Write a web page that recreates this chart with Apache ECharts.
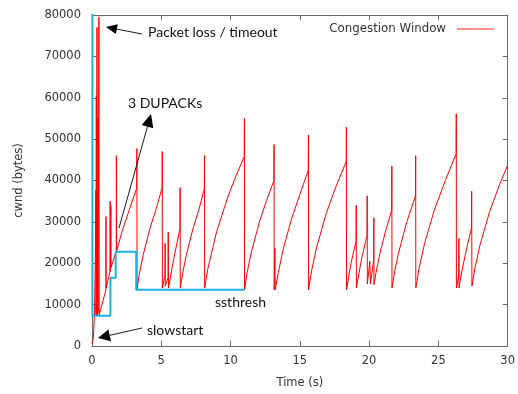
<!DOCTYPE html>
<html><head><meta charset="utf-8">
<script src="https://cdn.jsdelivr.net/npm/echarts@6/dist/echarts.min.js"></script>
<style>html,body{margin:0;padding:0;background:#fff}#c{width:518px;height:394px}</style>
</head><body><div id="c"></div>
<script>
// Congestion window trace (time in s, cwnd in bytes)
const cwndTime = [
  0, 0.1, 0.18, 0.24, 0.28, 0.29, 0.31, 0.33, 0.36, 0.37, 0.38, 0.40, 0.42, 0.44, 0.50, 0.52,
  0.8, 1.0, 1.01, 1.02, 1.3, 1.31, 1.33, 1.36, 1.38, 1.75, 1.76, 1.78, 2.2, 2.7, 3.23, 3.24, 3.25,
  3.4, 3.7, 4.2, 4.7, 5.06, 5.07, 5.08, 5.27, 5.28, 5.29, 5.49, 5.5, 5.52, 5.9, 6.35, 6.36, 6.37,
  6.55, 6.8, 7.3, 7.7, 8.11, 8.12, 8.13,
  8.35, 9.0, 9.8, 10.4, 10.99, 11.0, 11.01,
  11.2, 11.5, 12.1, 12.6, 13.13, 13.14, 13.15, 13.2, 13.22,
  13.45, 13.8, 14.4, 15.0, 15.61, 15.62, 15.63,
  15.85, 16.2, 16.9, 17.6, 18.35, 18.36, 18.37,
  18.7, 19.06, 19.07, 19.08,
  19.45, 19.85, 19.86, 19.87, 20.05, 20.1, 20.33, 20.34, 20.35,
  20.5, 20.8, 21.2, 21.63, 21.64, 21.65,
  21.85, 22.1, 22.7, 23.35, 23.36, 23.37,
  23.6, 24.0, 24.7, 25.5, 26.28, 26.29, 26.3, 26.47, 26.48, 26.49,
  26.65, 26.95, 27.39, 27.4, 27.42,
  27.65, 28.0, 28.7, 29.4, 30.0
];
const cwndBytes = [
  500, 2000, 8000, 20000, 37700, 7500, 60500, 7500, 77000, 7500, 55000, 7500, 55000, 8000, 79500, 7500,
  11000, 13500, 31300, 14000, 18000, 35000, 18000, 34000, 19000, 23000, 46000, 23000, 28000, 33000, 38200, 47700, 13600,
  17100, 22100, 28600, 33900, 38300, 47000, 14000, 17000, 24800, 14500, 16500, 27500, 14000, 21100, 28400, 38300, 14000,
  17700, 21900, 28500, 32800, 38000, 46000, 14000,
  18500, 27700, 36000, 41200, 45800, 55000, 13600,
  17800, 22700, 30200, 35200, 40000, 48700, 13600, 23600, 13600,
  17800, 23400, 30700, 36600, 42500, 51000, 13600,
  18200, 23700, 32000, 38500, 44600, 52900, 13600,
  20100, 25400, 34000, 14000,
  21000, 26700, 36300, 15000, 20500, 15000, 20800, 31000, 14800,
  17800, 22700, 27900, 32800, 43500, 14000,
  18100, 22200, 29800, 36300, 46000, 14000,
  18700, 24700, 32800, 40000, 46500, 56100, 14000, 17000, 26000, 14000,
  17400, 22200, 28600, 37400, 14500,
  19000, 24400, 32500, 38900, 43700
];
// Slow-start threshold steps
const ssthreshTime  = [0.03, 0.03, 1.33, 1.33, 1.71, 1.71, 3.19, 3.19, 11.0];
const ssthreshBytes = [85000, 7300, 7300, 16500, 16500, 22800, 22800, 13600, 13600];
// Axis ticks
const xTicks = [0, 5, 10, 15, 20, 25, 30];
const yTicks = [0, 10000, 20000, 30000, 40000, 50000, 60000, 70000, 80000];
const seriesName = 'Congestion Window';
const labels = {
  loss: 'Packet loss / timeout',
  dup: '3 DUPACKs',
  slow: 'slowstart',
  ss: 'ssthresh'
};

const zip = (a, b) => a.map((v, i) => [v, b[i]]);
const axisFont = 'DejaVu Sans';
const border = '#6a6a6a';

const chart = echarts.init(document.getElementById('c'), null, {renderer: 'canvas'});

function arrow(x1, y1, x2, y2, len, half) {
  const dx = x2 - x1, dy = y2 - y1, d = Math.hypot(dx, dy);
  const ux = dx / d, uy = dy / d;
  const bx = x2 - ux * len, by = y2 - uy * len;
  return [
    {type: 'line', shape: {x1: x1, y1: y1, x2: bx, y2: by}, style: {stroke: '#1a1a1a', lineWidth: 1}, z: 100},
    {type: 'polygon', shape: {points: [[x2, y2], [bx - uy * half, by + ux * half], [bx + uy * half, by - ux * half]]},
     style: {fill: '#000'}, z: 100}
  ];
}
const annFont = {fontFamily: 'Lato', fontSize: 14, fill: '#111'};
function txt(s, x, y) {
  return {type: 'text', x: x, y: y, style: Object.assign({text: s, textVerticalAlign: 'middle', verticalAlign: 'middle'}, annFont), z: 100};
}

const yAxisBase = {
  type: 'value', min: yTicks[0], max: yTicks[yTicks.length - 1], interval: yTicks[1] - yTicks[0],
  splitLine: {show: false},
  axisLine: {show: true, onZero: false, lineStyle: {color: border, width: 1}},
  axisTick: {show: true, inside: true, length: 5, lineStyle: {color: border}}
};
const xAxisBase = {
  type: 'value', min: xTicks[0], max: xTicks[xTicks.length - 1], interval: xTicks[1] - xTicks[0],
  splitLine: {show: false},
  axisLine: {show: true, onZero: false, lineStyle: {color: border, width: 1}},
  axisTick: {show: true, inside: true, length: 5, lineStyle: {color: border}}
};

chart.setOption({
  animation: false,
  backgroundColor: '#fff',
  grid: {left: 92, right: 6, top: 15, bottom: 46, show: false},
  legend: {
    data: [{name: seriesName, icon: 'rect', itemStyle: {color: '#ff6a6a'}}],
    right: 19, top: 18, align: 'right', itemWidth: 37, itemHeight: 1.5,
    textStyle: {fontFamily: axisFont, fontSize: 11.8, color: '#333', padding: [0, 6, 0, 0]}
  },
  xAxis: [
    Object.assign({}, xAxisBase, {
      position: 'bottom', name: 'Time (s)', nameLocation: 'middle', nameGap: 31,
      nameTextStyle: {fontFamily: axisFont, fontSize: 11.5, color: '#333'},
      axisLabel: {fontFamily: axisFont, fontSize: 11.5, color: '#333', margin: 9, formatter: v => String(v)}
    }),
    Object.assign({}, xAxisBase, {position: 'top', axisLabel: {show: false}})
  ],
  yAxis: [
    Object.assign({}, yAxisBase, {
      position: 'left', name: 'cwnd (bytes)', nameLocation: 'middle', nameGap: 67,
      nameTextStyle: {fontFamily: axisFont, fontSize: 11.5, color: '#333'},
      axisLabel: {fontFamily: axisFont, fontSize: 11.5, color: '#333', margin: 11, formatter: v => String(v)}
    }),
    Object.assign({}, yAxisBase, {position: 'right', axisLabel: {show: false}})
  ],
  series: [
    {
      name: seriesName, type: 'line', data: zip(cwndTime, cwndBytes),
      showSymbol: false, symbol: 'none', clip: true,
      lineStyle: {color: '#ff0000', width: 1}, itemStyle: {color: '#ff0000'}, z: 3
    },
    {
      name: 'ssthresh', type: 'line', data: zip(ssthreshTime, ssthreshBytes),
      showSymbol: false, symbol: 'none', clip: true,
      lineStyle: {color: '#1cb2e6', width: 2}, itemStyle: {color: '#1cb2e6'}, z: 4
    }
  ],
  graphic: [
    ...arrow(142, 34, 106, 27, 11, 5),
    ...arrow(119, 228, 151, 114, 13, 6),
    ...arrow(142, 328, 98, 338, 12, 6),
    txt(labels.loss, 148, 32),
    txt(labels.dup, 128, 103),
    txt(labels.slow, 147, 330),
    txt(labels.ss, 215, 302)
  ]
});
</script></body></html>
